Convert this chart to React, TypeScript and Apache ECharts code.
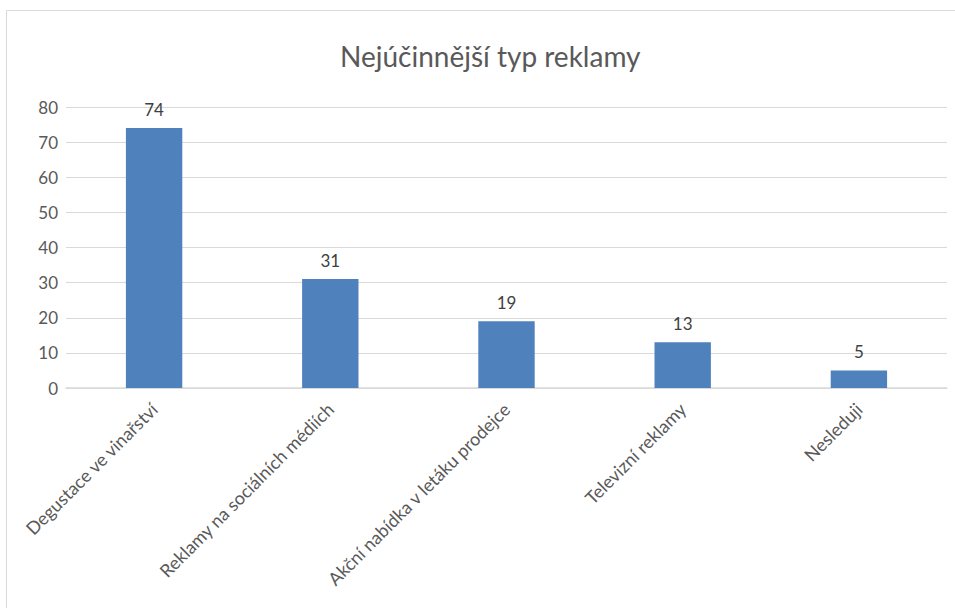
import React, { useEffect, useRef } from "react";
import * as echarts from "echarts";

const categories = [
  "Degustace ve vinařství",
  "Reklamy na sociálních médiích",
  "Akční nabídka v letáku prodejce",
  "Televizní reklamy",
  "Nesleduji",
];
const values = [74, 31, 19, 13, 5];
const titleText = "Nejúčinnější typ reklamy";

export default function App() {
  const ref = useRef<HTMLDivElement>(null);
  useEffect(() => {
    if (!ref.current) return;
    const chart = echarts.init(ref.current, undefined, { renderer: "svg" });
    const font = "Lato, 'Open Sans', sans-serif";
    chart.setOption({
      animation: false,
      backgroundColor: "#ffffff",
      textStyle: { fontFamily: font },
      title: {
        text: titleText,
        left: 335,
        top: 37,
        textStyle: { fontFamily: font, fontSize: 28, fontWeight: "normal", color: "#595959" },
      },
      graphic: [
        {
          type: "rect",
          shape: { x: 6.5, y: 10.5, width: 1000, height: 700 },
          style: { fill: "none", stroke: "#d9d9d9", lineWidth: 1 },
          silent: true,
        },
      ],
      grid: { left: 66, right: 8, top: 107, bottom: 220 },
      xAxis: {
        type: "category",
        data: categories,
        axisLine: { lineStyle: { color: "#d9d9d9", width: 1.5 } },
        axisTick: { show: false },
        axisLabel: {
          rotate: 45,
          interval: 0,
          margin: 18,
          fontFamily: font,
          fontSize: 18,
          color: "#595959",
        },
      },
      yAxis: {
        type: "value",
        min: 0,
        max: 80,
        interval: 10,
        axisLine: { show: false },
        axisTick: { show: false },
        splitLine: { lineStyle: { color: "#d9d9d9", width: 1 } },
        axisLabel: { margin: 8, fontFamily: font, fontSize: 17, color: "#595959" },
      },
      series: [
        {
          type: "bar",
          data: values,
          barWidth: "32%",
          itemStyle: { color: "#4f81bd" },
          label: {
            show: true,
            position: "top",
            distance: 10,
            fontFamily: font,
            fontSize: 17,
            color: "#404040",
          },
        },
      ],
    });
    return () => chart.dispose();
  }, []);
  return (
    <div
      ref={ref}
      style={{ position: "absolute", left: 0, top: 0, width: 955, height: 608 }}
    />
  );
}
